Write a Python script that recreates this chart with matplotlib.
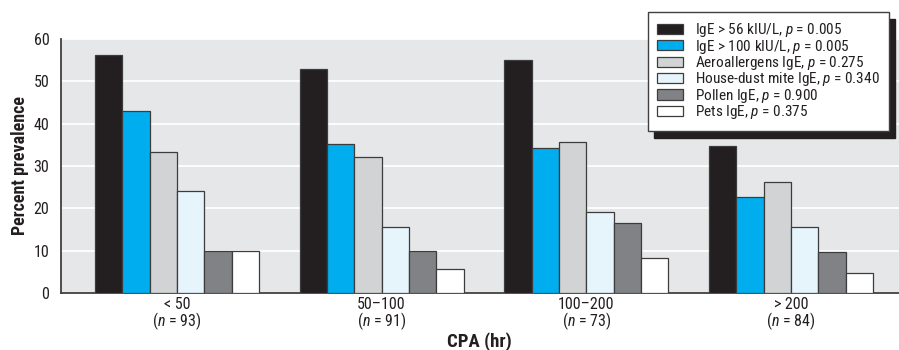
import numpy as np
import matplotlib
matplotlib.use('Agg')
import matplotlib.pyplot as plt

plt.rcParams['font.family'] = ['Roboto Condensed', 'DejaVu Sans']
plt.rcParams['mathtext.fontset'] = 'custom'
plt.rcParams['mathtext.rm'] = 'Roboto Condensed'
plt.rcParams['mathtext.it'] = 'Roboto Condensed:italic'

# CPA groups and sample sizes
groups = ['< 50', '50\u2013100', '100\u2013200', '> 200']
n_sizes = [93, 91, 73, 84]

# percent prevalence per series, one value per CPA group
series_names = ['IgE > 56 kIU/L, $p$ = 0.005',
                'IgE > 100 kIU/L, $p$ = 0.005',
                'Aeroallergens IgE, $p$ = 0.275',
                'House-dust mite IgE, $p$ = 0.340',
                'Pollen IgE, $p$ = 0.900',
                'Pets IgE, $p$ = 0.375']
ige56 = [56.2, 52.9, 55.0, 34.6]
ige100 = [43.0, 35.2, 34.2, 22.7]
aero = [33.3, 32.0, 35.6, 26.2]
hdm = [24.0, 15.5, 19.1, 15.6]
pollen = [9.9, 10.0, 16.4, 9.7]
pets = [9.9, 5.6, 8.2, 4.8]
series = [ige56, ige100, aero, hdm, pollen, pets]
colors = ['#231f20', '#00aeef', '#d1d3d4', '#e6f4fc', '#808285', '#ffffff']

fig = plt.figure(figsize=(8.99, 3.5), dpi=100)
ax = fig.add_axes([0.0673, 0.163, 0.9327, 0.726])
ax.set_facecolor('#e6e7e8')

x = np.arange(len(groups))
w = 0.1336
for i, (vals, c) in enumerate(zip(series, colors)):
    ax.bar(x + (i - 2.5) * w, vals, width=w, color=c, edgecolor='#3c3c3c',
           linewidth=0.9, label=series_names[i], zorder=3)

ax.set_xlim(-0.569, 3.528)
ax.set_ylim(0, 60)
ax.set_yticks(range(0, 61, 10))
ax.yaxis.grid(True, color='white', linewidth=1.3, zorder=1)
ax.set_axisbelow(True)
ax.set_xticks(x)
ax.set_xticklabels(['%s\n($n$ = %d)' % (g, n) for g, n in zip(groups, n_sizes)],
                   linespacing=0.9)
ax.tick_params(axis='both', length=0, colors='#231f20')
ax.tick_params(axis='y', pad=8, labelsize=11.5)
ax.tick_params(axis='x', pad=3, labelsize=11.5)
for s in ['top', 'right']:
    ax.spines[s].set_visible(False)
for s in ['left', 'bottom']:
    ax.spines[s].set_color('#404040')
    ax.spines[s].set_linewidth(1.3)

ax.set_ylabel('Percent prevalence', fontsize=13, fontweight='bold', color='#231f20', labelpad=3)
ax.set_xlabel('CPA (hr)', fontsize=13.5, fontweight='bold', color='#231f20', labelpad=0)

leg = ax.legend(loc='upper right', bbox_to_anchor=(0.989, 0.966),
                bbox_transform=fig.transFigure, borderaxespad=0,
                fancybox=False, framealpha=1, edgecolor='#404040',
                fontsize=11, handlelength=1.7, handleheight=0.65,
                handletextpad=0.78, labelspacing=-0.1, borderpad=0.6,
                shadow={'ox': 4.5, 'oy': -5, 'color': '#231f20', 'alpha': 1})
leg.get_frame().set_linewidth(1.0)
for t in leg.get_texts():
    t.set_color('#231f20')

fig.savefig('out.png', dpi=100)
